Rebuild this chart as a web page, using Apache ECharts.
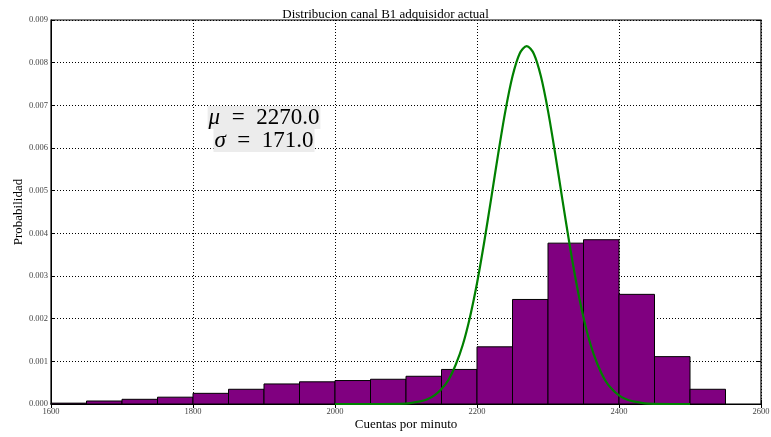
<!DOCTYPE html>
<html><head><meta charset="utf-8">
<script src="https://cdn.jsdelivr.net/npm/echarts@6/dist/echarts.min.js"></script>
<style>html,body{margin:0;padding:0;background:#fff}#c{width:771px;height:437px}</style>
</head><body><div id="c"></div>
<script>
var binStarts = [1600,1650,1700,1750,1800,1850,1900,1950,2000,2050,2100,2150,2200,2250,2300,2350,2400,2450,2500];
var binWidth = 50;
var binHeights = [0.00002,0.00007,0.00011,0.00016,0.00025,0.000345,0.00047,0.00052,0.00055,0.00058,0.00065,0.00081,0.00134,0.00245,0.00377,0.00385,0.00257,0.00111,0.000345];
var curveX = [2000,2050,2100,2120,2130,2140,2150,2160,2170,2180,2190,2200,2210,2220,2230,2240,2250,2260,2270,2280,2290,2300,2310,2320,2330,2340,2350,2360,2370,2380,2390,2400,2410,2420,2440,2490,2500];
var curveY = [0,0,0.00001,0.00006,0.00011,0.0002,0.00035,0.00057,0.00092,0.00139,0.00203,0.00283,0.00378,0.00482,0.00588,0.00687,0.00768,0.00821,0.00839,0.00821,0.00768,0.00687,0.00588,0.00482,0.00378,0.00283,0.00203,0.00139,0.00092,0.00057,0.00035,0.0002,0.00011,0.00006,0.00001,0,0];
var titleText = 'Distribucion canal B1 adquisidor actual';
var xLabel = 'Cuentas por minuto';
var yLabel = 'Probabilidad';
var muSym = '\u03bc', muVal = '2270.0';
var sigmaSym = '\u03c3', sigmaVal = '171.0';

var serif = '"Liberation Serif","DejaVu Serif",serif';
var histData = binStarts.map(function(s,i){return [s, s+binWidth, binHeights[i]];});
var curveData = curveX.map(function(x,i){return [x, curveY[i]];});

var chart = echarts.init(document.getElementById('c'));
var gridLine = {show:true, lineStyle:{color:'#000', type:[1,2], width:1}};
var richStyle = {i:{fontFamily:serif, fontSize:23, fontStyle:'italic', fill:'#000'}, n:{fontFamily:serif, fontSize:23, fill:'#000'}};
chart.setOption({
  animation:false,
  backgroundColor:'#fff',
  title:{text:titleText, left:'center', top:3, textStyle:{fontFamily:serif, fontSize:13, fontWeight:'normal', color:'#000'}},
  grid:{left:51, right:10, top:20, bottom:33, outerBoundsMode:'none', containLabel:false, show:true, borderColor:'#000', borderWidth:1.2, backgroundColor:'transparent'},
  xAxis:[{type:'value', min:1600, max:2600, interval:200, position:'bottom',
    name:xLabel, nameLocation:'middle', nameGap:14, nameMoveOverlap:false, nameTextStyle:{fontFamily:serif, fontSize:13, color:'#000'},
    axisLine:{show:true, lineStyle:{color:'#000'}}, axisTick:{show:true, inside:true, length:4, lineStyle:{color:'#000'}},
    axisLabel:{fontFamily:serif, fontSize:8.5, color:'#444', margin:3, formatter:function(v){return String(v);}}, splitLine:gridLine},
   {type:'value', min:1600, max:2600, interval:200, position:'top',
    axisLine:{show:false}, axisTick:{show:true, inside:true, length:4, lineStyle:{color:'#000'}}, axisLabel:{show:false}, splitLine:{show:false}}],
  yAxis:[{type:'value', min:0, max:0.009, interval:0.001, position:'left',
    name:yLabel, nameLocation:'middle', nameGap:26, nameMoveOverlap:false, nameTextStyle:{fontFamily:serif, fontSize:13, color:'#000'},
    axisLine:{show:true, lineStyle:{color:'#000'}}, axisTick:{show:true, inside:true, length:4, lineStyle:{color:'#000'}},
    axisLabel:{fontFamily:serif, fontSize:8.5, color:'#444', margin:3, formatter:function(v){return v.toFixed(3);}}, splitLine:gridLine},
   {type:'value', min:0, max:0.009, interval:0.001, position:'right',
    axisLine:{show:false}, axisTick:{show:true, inside:true, length:4, lineStyle:{color:'#000'}}, axisLabel:{show:false}, splitLine:{show:false}}],
  series:[
    {type:'custom', xAxisIndex:0, yAxisIndex:0, data:histData, z:2,
     renderItem:function(params, api){
       var p0 = api.coord([api.value(0), api.value(2)]);
       var p1 = api.coord([api.value(1), 0]);
       return {type:'rect', shape:{x:p0[0], y:p0[1], width:p1[0]-p0[0], height:p1[1]-p0[1]},
         style:{fill:'#800080', stroke:'#000', lineWidth:1}};
     }},
    {type:'line', xAxisIndex:0, yAxisIndex:0, data:curveData, smooth:0.3, showSymbol:false, z:3,
     lineStyle:{color:'#008000', width:2.2}}
  ],
  graphic:[
    {type:'text', x:264, y:106, z:10, style:{text:'{i|'+muSym+'}{n|  =  '+muVal+'}', rich:richStyle, textAlign:'center', backgroundColor:'#ececec', padding:[0,1,0,1]}},
    {type:'text', x:264, y:129, z:10, style:{text:'{i|'+sigmaSym+'}{n|  =  '+sigmaVal+'}', rich:richStyle, textAlign:'center', backgroundColor:'#ececec', padding:[0,1,0,1]}}
  ]
});
</script></body></html>
